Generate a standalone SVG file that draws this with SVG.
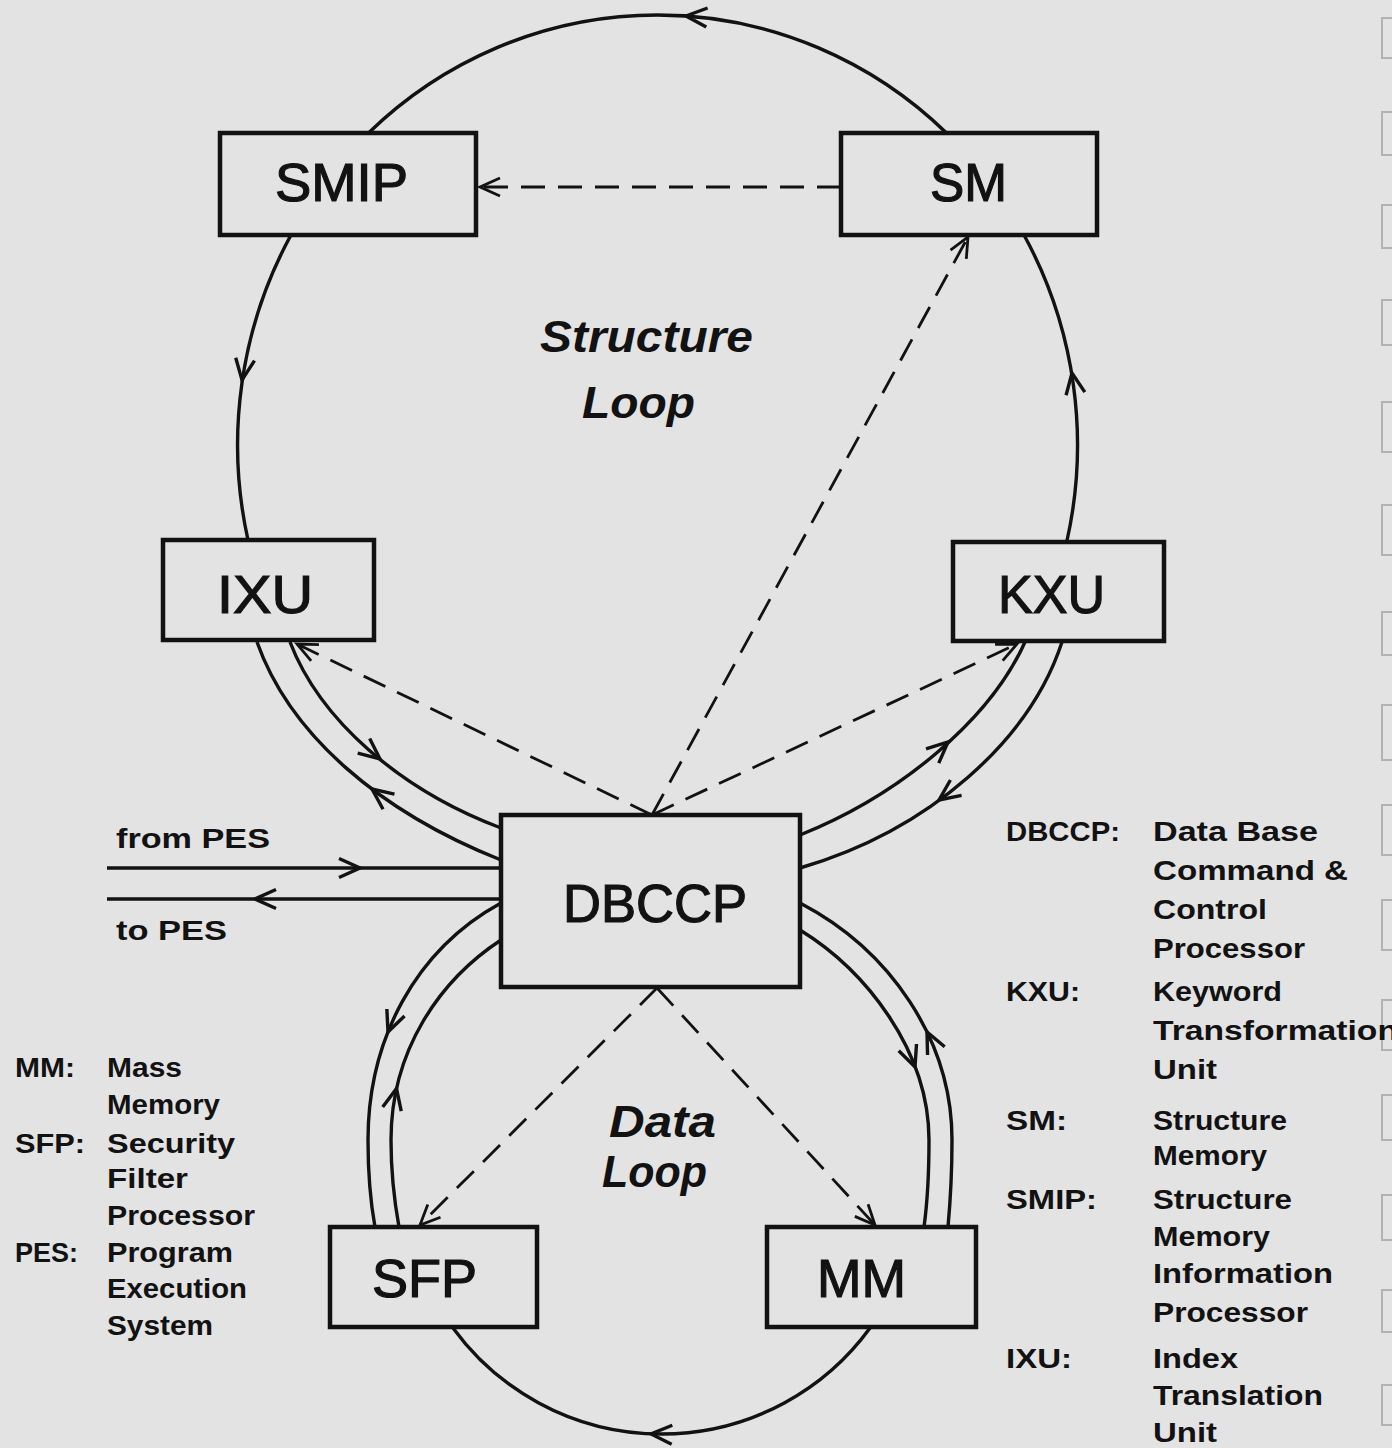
<svg xmlns="http://www.w3.org/2000/svg" xmlns:xlink="http://www.w3.org/1999/xlink" width="1392" height="1448" viewBox="0 0 1392 1448">
  <defs>
    <style>
      .bg { fill: #e3e3e3; }
      .box { fill: none; stroke: #121212; stroke-width: 4.5; }
      .line { fill: none; stroke: #121212; stroke-width: 3.4; }
      .dash { fill: none; stroke: #121212; stroke-width: 2.8; stroke-dasharray: 24 13; }
      .head { fill: none; stroke: #121212; stroke-width: 3.4; stroke-linejoin: miter; }
      .node { font-family: "Liberation Sans", Arial, sans-serif; font-size: 54px; fill: #121212; stroke: #121212; stroke-width: 1.2; }
      .loop { font-family: "Liberation Sans", Arial, sans-serif; font-size: 44px; font-style: italic; font-weight: bold; fill: #121212; }
      .legend { font-family: "Liberation Sans", Arial, sans-serif; font-size: 28px; font-weight: bold; fill: #121212; }
      .io { font-family: "Liberation Sans", Arial, sans-serif; font-size: 27px; font-weight: bold; fill: #121212; }
      .edge { fill: none; stroke: #b2b2b2; stroke-width: 2; }
    </style>
    <!-- open V arrowhead, tip at the origin, pointing along +x -->
    <path id="v" class="head" d="M-21,-9.5 L0,0 L-21,9.5"/>
    <marker id="arr" markerUnits="userSpaceOnUse" markerWidth="26" markerHeight="26" viewBox="-23 -13 26 26" refX="0" refY="0" orient="auto" overflow="visible">
      <path d="M-20,-9 L0,0 L-20,9" fill="none" stroke="#121212" stroke-width="2.8"/>
    </marker>
  </defs>

  <rect class="bg" x="0" y="0" width="1392" height="1448"/>

  <!-- binding marks along the right page edge -->
  <g id="page-edge">
    <path class="edge" d="M1392,18 L1382,18 L1382,58 L1392,58"/>
    <path class="edge" d="M1392,112 L1382,112 L1382,155 L1392,155"/>
    <path class="edge" d="M1392,205 L1382,205 L1382,248 L1392,248"/>
    <path class="edge" d="M1392,300 L1382,300 L1382,345 L1392,345"/>
    <path class="edge" d="M1392,402 L1382,402 L1382,452 L1392,452"/>
    <path class="edge" d="M1392,505 L1382,505 L1382,555 L1392,555"/>
    <path class="edge" d="M1392,612 L1382,612 L1382,655 L1392,655"/>
    <path class="edge" d="M1392,705 L1382,705 L1382,760 L1392,760"/>
    <path class="edge" d="M1392,805 L1382,805 L1382,855 L1392,855"/>
    <path class="edge" d="M1392,900 L1382,900 L1382,950 L1392,950"/>
    <path class="edge" d="M1392,1000 L1382,1000 L1382,1050 L1392,1050"/>
    <path class="edge" d="M1392,1095 L1382,1095 L1382,1140 L1392,1140"/>
    <path class="edge" d="M1392,1195 L1382,1195 L1382,1240 L1392,1240"/>
    <path class="edge" d="M1392,1290 L1382,1290 L1382,1332 L1392,1332"/>
    <path class="edge" d="M1392,1385 L1382,1385 L1382,1425 L1392,1425"/>
  </g>

  <!-- connectors -->
  <g id="connectors">
    <!-- structure loop: single arcs -->
    <path class="line" d="M368.5,133 A420,430 0 0 1 946.5,133"/>
    <path class="line" d="M291,235 A420,430 0 0 0 248,540"/>
    <path class="line" d="M1066.7,542 A420,430 0 0 0 1024,235"/>
    <!-- structure loop: double tracks to DBCCP -->
    <path class="line" d="M290,642 C320,720 400,790 501,828"/>
    <path class="line" d="M257,642 C290,735 380,812 501,860"/>
    <path class="line" d="M1025,642 C990,720 900,795 800,835"/>
    <path class="line" d="M1062,642 C1030,740 930,830 800,868"/>
    <!-- PES link -->
    <path class="line" d="M107,868 L501,868"/>
    <path class="line" d="M107,899 L501,899"/>
    <!-- data loop: double tracks -->
    <path class="line" d="M501,903 C415,950 368,1040 368,1140 C368,1180 371,1205 375,1227"/>
    <path class="line" d="M501,940 C440,980 391,1050 391,1140 C391,1180 395,1205 399,1227"/>
    <path class="line" d="M800,903 C890,950 952,1040 952,1140 C952,1180 950,1205 948,1227"/>
    <path class="line" d="M800,930 C865,970 929,1050 929,1140 C929,1180 927,1205 924,1227"/>
    <!-- data loop: bottom arc -->
    <path class="line" d="M453,1328 A258,258 0 0 0 870,1328"/>

    <!-- direction marks on the solid lines -->
    <use xlink:href="#v" transform="translate(686,16) rotate(184)"/>
    <use xlink:href="#v" transform="translate(242,380) rotate(98.5)"/>
    <use xlink:href="#v" transform="translate(1072,373) rotate(-99.4)"/>
    <use xlink:href="#v" transform="translate(380,759) rotate(39)"/>
    <use xlink:href="#v" transform="translate(372,789) rotate(217)"/>
    <use xlink:href="#v" transform="translate(948,742) rotate(-42)"/>
    <use xlink:href="#v" transform="translate(939,800) rotate(144)"/>
    <use xlink:href="#v" transform="translate(360,868) rotate(0)"/>
    <use xlink:href="#v" transform="translate(255,899) rotate(180)"/>
    <use xlink:href="#v" transform="translate(388,1032) rotate(111.5)"/>
    <use xlink:href="#v" transform="translate(396.5,1088.5) rotate(-77.5)"/>
    <use xlink:href="#v" transform="translate(927,1032) rotate(-115.7)"/>
    <use xlink:href="#v" transform="translate(915,1067) rotate(69.4)"/>
    <use xlink:href="#v" transform="translate(651,1434) rotate(182)"/>

    <!-- dashed control paths -->
    <path class="dash" d="M841,187 L480,187" marker-end="url(#arr)"/>
    <path class="dash" d="M652,815 L968,237" marker-end="url(#arr)"/>
    <path class="dash" d="M652,815 L297,644" marker-end="url(#arr)"/>
    <path class="dash" d="M652,815 L1017,644" marker-end="url(#arr)"/>
    <path class="dash" d="M657,988 L420,1225" marker-end="url(#arr)"/>
    <path class="dash" d="M657,988 L875,1225" marker-end="url(#arr)"/>
  </g>

  <!-- nodes -->
  <g id="SMIP">
    <rect class="box" x="220" y="133" width="256" height="102"/>
    <text class="node" x="275" y="201" textLength="133" lengthAdjust="spacingAndGlyphs">SMIP</text>
  </g>
  <g id="SM">
    <rect class="box" x="841" y="133" width="256" height="102"/>
    <text class="node" x="930" y="201" textLength="77" lengthAdjust="spacingAndGlyphs">SM</text>
  </g>
  <g id="IXU">
    <rect class="box" x="163" y="540" width="211" height="100"/>
    <text class="node" x="217" y="613" textLength="96" lengthAdjust="spacingAndGlyphs">IXU</text>
  </g>
  <g id="KXU">
    <rect class="box" x="953" y="542" width="211" height="99"/>
    <text class="node" x="998" y="613" textLength="107" lengthAdjust="spacingAndGlyphs">KXU</text>
  </g>
  <g id="DBCCP">
    <rect class="box" x="501" y="815" width="299" height="172"/>
    <text class="node" x="563" y="922" textLength="184" lengthAdjust="spacingAndGlyphs">DBCCP</text>
  </g>
  <g id="SFP">
    <rect class="box" x="330" y="1227" width="207" height="100"/>
    <text class="node" x="372" y="1297" textLength="105" lengthAdjust="spacingAndGlyphs">SFP</text>
  </g>
  <g id="MM">
    <rect class="box" x="767" y="1227" width="209" height="100"/>
    <text class="node" x="817" y="1297" textLength="89" lengthAdjust="spacingAndGlyphs">MM</text>
  </g>

  <!-- loop titles -->
  <g id="loop-labels">
    <text class="loop" x="540" y="352" textLength="213" lengthAdjust="spacingAndGlyphs">Structure</text>
    <text class="loop" x="582" y="418" textLength="113" lengthAdjust="spacingAndGlyphs">Loop</text>
    <text class="loop" x="609" y="1137" textLength="107" lengthAdjust="spacingAndGlyphs">Data</text>
    <text class="loop" x="602" y="1187" textLength="105" lengthAdjust="spacingAndGlyphs">Loop</text>
  </g>

  <!-- PES link labels -->
  <g id="pes-labels">
    <text class="io" x="116" y="848" textLength="154" lengthAdjust="spacingAndGlyphs">from PES</text>
    <text class="io" x="116" y="940" textLength="111" lengthAdjust="spacingAndGlyphs">to PES</text>
  </g>

  <!-- abbreviation key, left -->
  <g id="key-left">
    <text class="legend" x="15" y="1077" textLength="60" lengthAdjust="spacingAndGlyphs">MM:</text>
    <text class="legend" x="107" y="1077" textLength="75" lengthAdjust="spacingAndGlyphs">Mass</text>
    <text class="legend" x="107" y="1114" textLength="113" lengthAdjust="spacingAndGlyphs">Memory</text>
    <text class="legend" x="15" y="1153" textLength="70" lengthAdjust="spacingAndGlyphs">SFP:</text>
    <text class="legend" x="107" y="1153" textLength="128" lengthAdjust="spacingAndGlyphs">Security</text>
    <text class="legend" x="107" y="1188" textLength="81" lengthAdjust="spacingAndGlyphs">Filter</text>
    <text class="legend" x="107" y="1225" textLength="148" lengthAdjust="spacingAndGlyphs">Processor</text>
    <text class="legend" x="15" y="1262" textLength="63" lengthAdjust="spacingAndGlyphs">PES:</text>
    <text class="legend" x="107" y="1262" textLength="126" lengthAdjust="spacingAndGlyphs">Program</text>
    <text class="legend" x="107" y="1298" textLength="140" lengthAdjust="spacingAndGlyphs">Execution</text>
    <text class="legend" x="107" y="1335" textLength="106" lengthAdjust="spacingAndGlyphs">System</text>
  </g>

  <!-- abbreviation key, right -->
  <g id="key-right">
    <text class="legend" x="1006" y="841" textLength="114" lengthAdjust="spacingAndGlyphs">DBCCP:</text>
    <text class="legend" x="1153" y="841" textLength="165" lengthAdjust="spacingAndGlyphs">Data Base</text>
    <text class="legend" x="1153" y="880" textLength="195" lengthAdjust="spacingAndGlyphs">Command &amp;</text>
    <text class="legend" x="1153" y="919" textLength="114" lengthAdjust="spacingAndGlyphs">Control</text>
    <text class="legend" x="1153" y="958" textLength="152" lengthAdjust="spacingAndGlyphs">Processor</text>
    <text class="legend" x="1006" y="1001" textLength="74" lengthAdjust="spacingAndGlyphs">KXU:</text>
    <text class="legend" x="1153" y="1001" textLength="129" lengthAdjust="spacingAndGlyphs">Keyword</text>
    <text class="legend" x="1153" y="1040" textLength="245" lengthAdjust="spacingAndGlyphs">Transformation</text>
    <text class="legend" x="1153" y="1079" textLength="64" lengthAdjust="spacingAndGlyphs">Unit</text>
    <text class="legend" x="1006" y="1130" textLength="61" lengthAdjust="spacingAndGlyphs">SM:</text>
    <text class="legend" x="1153" y="1130" textLength="134" lengthAdjust="spacingAndGlyphs">Structure</text>
    <text class="legend" x="1153" y="1165" textLength="114" lengthAdjust="spacingAndGlyphs">Memory</text>
    <text class="legend" x="1006" y="1209" textLength="91" lengthAdjust="spacingAndGlyphs">SMIP:</text>
    <text class="legend" x="1153" y="1209" textLength="139" lengthAdjust="spacingAndGlyphs">Structure</text>
    <text class="legend" x="1153" y="1246" textLength="117" lengthAdjust="spacingAndGlyphs">Memory</text>
    <text class="legend" x="1153" y="1283" textLength="180" lengthAdjust="spacingAndGlyphs">Information</text>
    <text class="legend" x="1153" y="1322" textLength="155" lengthAdjust="spacingAndGlyphs">Processor</text>
    <text class="legend" x="1006" y="1368" textLength="66" lengthAdjust="spacingAndGlyphs">IXU:</text>
    <text class="legend" x="1153" y="1368" textLength="85" lengthAdjust="spacingAndGlyphs">Index</text>
    <text class="legend" x="1153" y="1405" textLength="170" lengthAdjust="spacingAndGlyphs">Translation</text>
    <text class="legend" x="1153" y="1442" textLength="64" lengthAdjust="spacingAndGlyphs">Unit</text>
  </g>
</svg>
